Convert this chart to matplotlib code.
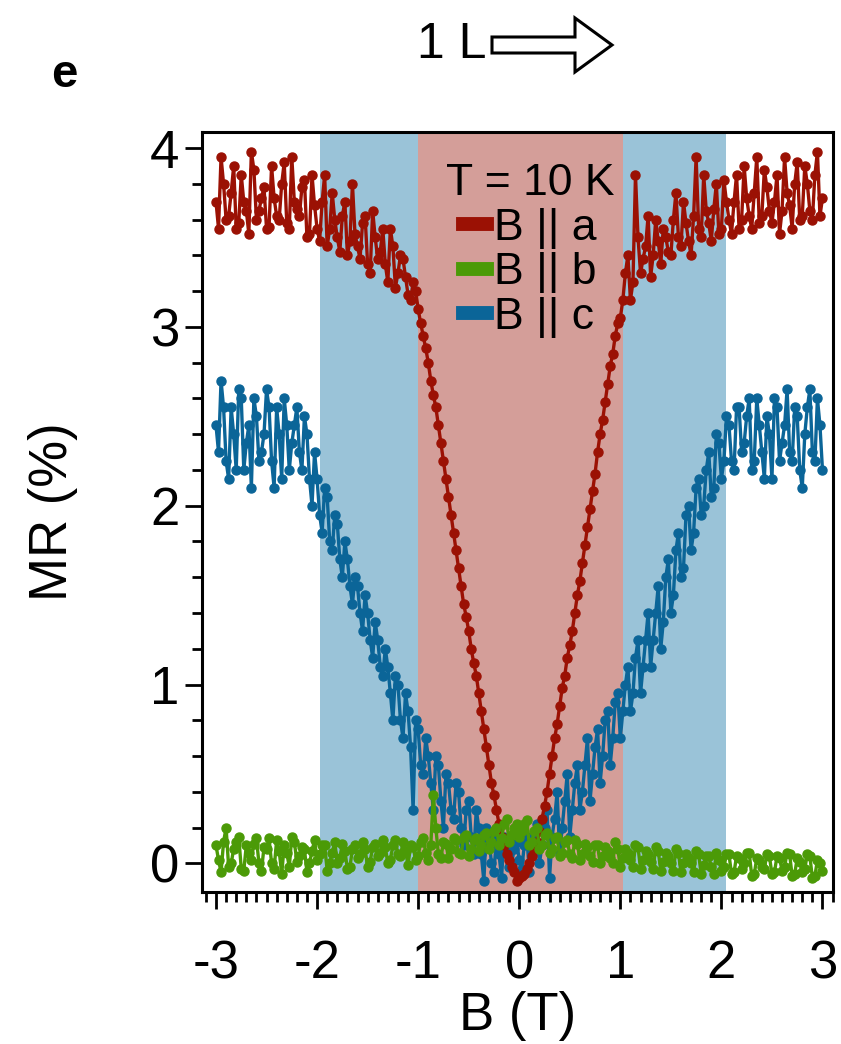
import numpy as np
import matplotlib
matplotlib.use("Agg")
from matplotlib import pyplot as plt
from matplotlib.lines import Line2D
from matplotlib.patches import Polygon
from matplotlib.ticker import MultipleLocator

plt.rcParams['font.family'] = ['Liberation Sans', 'DejaVu Sans']

# campo magnetico (T): sweep in salita (passo 0.05) e in discesa (punti intermedi)
field_up = np.linspace(-3, 3, 121)
field_dn = np.linspace(-2.975, 2.975, 120)

# MR (%) - B || a
mr_a_up = [3.70, 3.95, 3.60, 3.75, 3.55, 3.85, 3.65, 3.98, 3.60, 3.72,
           3.55, 3.90, 3.62, 3.80, 3.58, 3.95, 3.66, 3.78, 3.50, 3.85,
           3.55, 3.70, 3.45, 3.75, 3.50, 3.62, 3.40, 3.80, 3.45, 3.58,
           3.35, 3.65, 3.38, 3.55, 3.25, 3.45, 3.30, 3.38, 3.18, 3.25,
           3.10, 2.95, 2.80, 2.62, 2.45, 2.25, 2.05, 1.85, 1.65, 1.45,
           1.30, 1.12, 0.95, 0.75, 0.55, 0.38, 0.22, 0.10, 0.02, -0.05,
           -0.08,
           -0.06, 0.00, 0.08, 0.18, 0.32, 0.50, 0.70, 0.88, 1.05, 1.22,
           1.40, 1.58, 1.78, 1.98, 2.18, 2.40, 2.58, 2.78, 2.95, 3.05,
           3.30, 3.15, 3.85, 3.30, 3.45, 3.28, 3.60, 3.35, 3.50, 3.40,
           3.75, 3.45, 3.58, 3.40, 3.95, 3.50, 3.65, 3.48, 3.80, 3.55,
           3.70, 3.52, 3.85, 3.60, 3.72, 3.55, 3.95, 3.62, 3.78, 3.58,
           3.85, 3.65, 3.75, 3.55, 3.92, 3.62, 3.80, 3.60, 3.98, 3.72]
mr_a_dn = [3.55, 3.80, 3.62, 3.90, 3.58, 3.70, 3.52, 3.88, 3.65, 3.78,
           3.56, 3.72, 3.60, 3.92, 3.55, 3.70, 3.62, 3.82, 3.52, 3.68,
           3.48, 3.85, 3.55, 3.60, 3.42, 3.70, 3.48, 3.52, 3.38, 3.62,
           3.30, 3.50, 3.42, 3.35, 3.55, 3.22, 3.40, 3.28, 3.15, 3.20,
           3.02, 2.88, 2.70, 2.55, 2.35, 2.15, 1.95, 1.75, 1.55, 1.38,
           1.20, 1.05, 0.85, 0.65, 0.45, 0.30, 0.15, 0.05, -0.02, -0.10,
           -0.07, -0.03, 0.04, 0.12, 0.25, 0.40, 0.60, 0.78, 0.98, 1.15,
           1.30, 1.50, 1.68, 1.88, 2.08, 2.30, 2.48, 2.68, 2.85, 3.02,
           3.15, 3.40, 3.25, 3.50, 3.38, 3.62, 3.40, 3.48, 3.55, 3.42,
           3.60, 3.50, 3.70, 3.48, 3.62, 3.55, 3.85, 3.58, 3.66, 3.52,
           3.82, 3.60, 3.70, 3.55, 3.90, 3.62, 3.75, 3.58, 3.88, 3.65,
           3.70, 3.52, 3.95, 3.68, 3.80, 3.60, 3.90, 3.65, 3.85, 3.62]

# B || b
mr_b_up = [0.10, -0.05, 0.20, 0.00, 0.12, -0.03, 0.10, 0.02, 0.14, -0.04,
           0.08, 0.00, 0.13, -0.06, 0.06, 0.15, 0.01, 0.09, -0.05, 0.07,
           0.02, 0.10, -0.04, 0.06, 0.00, 0.11, -0.03, 0.08, 0.03, 0.12,
           -0.02, 0.09, 0.04, 0.13, 0.00, 0.10, 0.05, 0.12, -0.01, 0.09,
           0.04, 0.14, 0.02, 0.38, 0.05, 0.12, 0.03, 0.14, 0.06, 0.15,
           0.04, 0.13, 0.07, 0.16, 0.08, 0.18, 0.10, 0.22, 0.12, 0.20,
           0.15,
           0.22, 0.10, 0.18, 0.08, 0.16, 0.06, 0.14, 0.04, 0.12, 0.05,
           0.13, 0.02, 0.11, 0.04, 0.10, 0.00, 0.09, 0.03, 0.12, -0.02,
           0.08, 0.02, 0.10, -0.03, 0.07, 0.01, 0.09, -0.04, 0.06, 0.00,
           0.08, -0.05, 0.05, 0.00, 0.07, -0.06, 0.04, -0.02, 0.06, -0.04,
           0.05, -0.06, 0.04, -0.03, 0.06, -0.07, 0.03, -0.02, 0.05, -0.06,
           0.04, -0.04, 0.06, -0.07, 0.03, -0.05, 0.05, -0.08, 0.02, -0.04]
mr_b_dn = [0.02, 0.12, -0.02, 0.08, 0.15, -0.04, 0.06, 0.11, 0.00, 0.09,
           0.14, -0.03, 0.07, 0.10, -0.02, 0.12, 0.04, 0.08, 0.00, 0.13,
           0.05, 0.10, 0.00, 0.12, 0.03, 0.07, -0.02, 0.10, 0.05, 0.08,
           0.01, 0.11, 0.06, 0.09, 0.02, 0.13, 0.04, 0.07, 0.10, 0.02,
           0.12, 0.06, 0.10, 0.20, 0.03, 0.11, 0.08, 0.13, 0.05, 0.16,
           0.08, 0.14, 0.10, 0.17, 0.12, 0.20, 0.14, 0.25, 0.16, 0.22,
           0.18, 0.24, 0.12, 0.20, 0.10, 0.17, 0.08, 0.15, 0.06, 0.13,
           0.03, 0.11, 0.05, 0.09, 0.01, 0.10, 0.04, 0.07, 0.00, 0.08,
           0.03, 0.06, -0.02, 0.09, 0.02, 0.05, -0.03, 0.07, 0.01, 0.04,
           -0.04, 0.06, 0.00, 0.03, -0.05, 0.05, -0.01, 0.04, -0.06, 0.02,
           -0.02, 0.05, -0.05, 0.03, 0.00, 0.06, -0.06, 0.02, -0.03, 0.04,
           -0.05, 0.03, -0.02, 0.05, -0.06, 0.01, -0.03, 0.04, -0.07, 0.00]

# B || c
mr_c_up = [2.45, 2.70, 2.25, 2.55, 2.20, 2.60, 2.35, 2.10, 2.50, 2.30,
           2.65, 2.25, 2.55, 2.15, 2.45, 2.35, 2.55, 2.20, 2.40, 2.00,
           2.15, 1.85, 2.05, 1.75, 1.90, 1.60, 1.70, 1.45, 1.55, 1.30,
           1.40, 1.15, 1.25, 1.05, 1.10, 0.80, 1.00, 0.70, 0.85, 0.30,
           0.75, 0.50, 0.60, 0.30, 0.55, 0.20, 0.45, 0.25, 0.40, 0.10,
           0.35, 0.05, 0.20, -0.10, 0.15, -0.05, 0.05, 0.15, -0.02, 0.08,
           0.02,
           0.10, -0.05, 0.15, 0.00, 0.20, -0.08, 0.25, 0.05, 0.35, 0.15,
           0.45, 0.30, 0.55, 0.35, 0.65, 0.45, 0.80, 0.55, 0.90, 0.70,
           1.00, 0.85, 1.15, 0.95, 1.25, 1.10, 1.40, 1.20, 1.60, 1.40,
           1.75, 1.60, 1.95, 1.75, 2.10, 1.95, 2.20, 2.05, 2.40, 2.15,
           2.50, 2.25, 2.55, 2.30, 2.50, 2.20, 2.60, 2.30, 2.50, 2.15,
           2.55, 2.35, 2.65, 2.25, 2.50, 2.10, 2.55, 2.30, 2.60, 2.20]
mr_c_dn = [2.30, 2.55, 2.15, 2.40, 2.65, 2.20, 2.45, 2.60, 2.25, 2.40,
           2.55, 2.10, 2.40, 2.60, 2.20, 2.45, 2.30, 2.50, 2.15, 2.30,
           1.95, 2.10, 1.80, 1.95, 1.70, 1.80, 1.55, 1.60, 1.40, 1.50,
           1.25, 1.35, 1.10, 1.20, 0.95, 1.05, 0.80, 0.95, 0.65, 0.80,
           0.55, 0.70, 0.45, 0.60, 0.35, 0.50, 0.30, 0.45, 0.20, 0.30,
           0.15, 0.30, 0.05, 0.20, 0.00, 0.15, -0.08, 0.10, 0.00, 0.12,
           -0.03, 0.15, 0.05, 0.22, 0.10, 0.30, 0.15, 0.40, 0.20, 0.50,
           0.30, 0.55, 0.40, 0.70, 0.50, 0.75, 0.60, 0.85, 0.70, 0.95,
           0.85, 1.10, 0.95, 1.25, 1.10, 1.40, 1.25, 1.55, 1.35, 1.70,
           1.50, 1.85, 1.65, 2.00, 1.85, 2.15, 2.00, 2.30, 2.10, 2.35,
           2.25, 2.45, 2.20, 2.55, 2.35, 2.60, 2.25, 2.45, 2.15, 2.40,
           2.60, 2.25, 2.45, 2.30, 2.55, 2.20, 2.40, 2.65, 2.25, 2.45]

labels = ['B || a', 'B || b', 'B || c']
colors = ['#9b1104', '#4b9a07', '#0b6598']

field_all = np.r_[field_up, field_dn]
order = np.argsort(field_all)

def sweep(up, dn):
    return np.r_[up, dn][order]

fig = plt.figure(figsize=(8.41, 10.44), dpi=100)
ax = fig.add_axes([0.240, 0.1456, 0.750, 0.728])

# bande colorate
ax.axvspan(-1.97, 2.05, color='#9ac3d8', lw=0, zorder=0)
ax.axvspan(-1.0, 1.03, color='#d49e99', lw=0, zorder=0)

kw = dict(lw=2.4, marker='o', ms=6.5, zorder=3)
ax.plot(field_all[order], sweep(mr_c_up, mr_c_dn), color=colors[2], **kw)
ax.plot(field_all[order], sweep(mr_a_up, mr_a_dn), color=colors[0], **kw)
ax.plot(field_all[order], sweep(mr_b_up, mr_b_dn), color=colors[1], **kw)

ax.set_xlim(-3.14, 3.10)
ax.set_ylim(-0.16, 4.09)
ax.xaxis.set_major_locator(MultipleLocator(1))
ax.xaxis.set_minor_locator(MultipleLocator(0.1))
ax.yaxis.set_major_locator(MultipleLocator(1))
ax.yaxis.set_minor_locator(MultipleLocator(0.2))
ax.xaxis.set_major_formatter(plt.FuncFormatter(lambda v, p: f"{v:.0f}"))
ax.yaxis.set_major_formatter(plt.FuncFormatter(lambda v, p: f"{v:.0f}"))
ax.tick_params(which='both', direction='out', top=False, right=False, width=2)
ax.tick_params(which='major', length=12, labelsize=38)
ax.tick_params(axis='x', which='major', pad=22)
ax.tick_params(axis='y', which='major', pad=4)
ax.tick_params(which='minor', length=7)
for s in ax.spines.values():
    s.set_linewidth(2.2)

ax.set_xlabel('B (T)', fontsize=38, labelpad=1)
ax.set_ylabel('MR (%)', fontsize=38, labelpad=52)

handles = [Line2D([], [], color=c, lw=10) for c in colors]
leg = ax.legend(handles, labels, title='T = 10 K', loc='upper center',
                bbox_to_anchor=(0.52, 1.0), frameon=False, fontsize=32,
                title_fontsize=32, handlelength=0.55, handletextpad=0.15,
                labelspacing=0.08, borderaxespad=0.3)

fig.text(0.077, 0.928, 'e', fontsize=34, fontweight='bold', ha='center', va='center')
fig.text(0.537, 0.957, '1 L', fontsize=36, ha='center', va='center')

# freccia vuota accanto a "1 L" (coordinate in pixel della figura)
arrow_px = [(492, 1044 - 37), (575, 1044 - 37), (575, 1044 - 18), (612, 1044 - 45),
            (575, 1044 - 72), (575, 1044 - 53), (492, 1044 - 53)]
fig.patches.append(Polygon([(x / 841, y / 1044) for x, y in arrow_px], closed=True,
                           transform=fig.transFigure, facecolor='white',
                           edgecolor='black', lw=2.2))

fig.savefig('out.png', dpi=100)
